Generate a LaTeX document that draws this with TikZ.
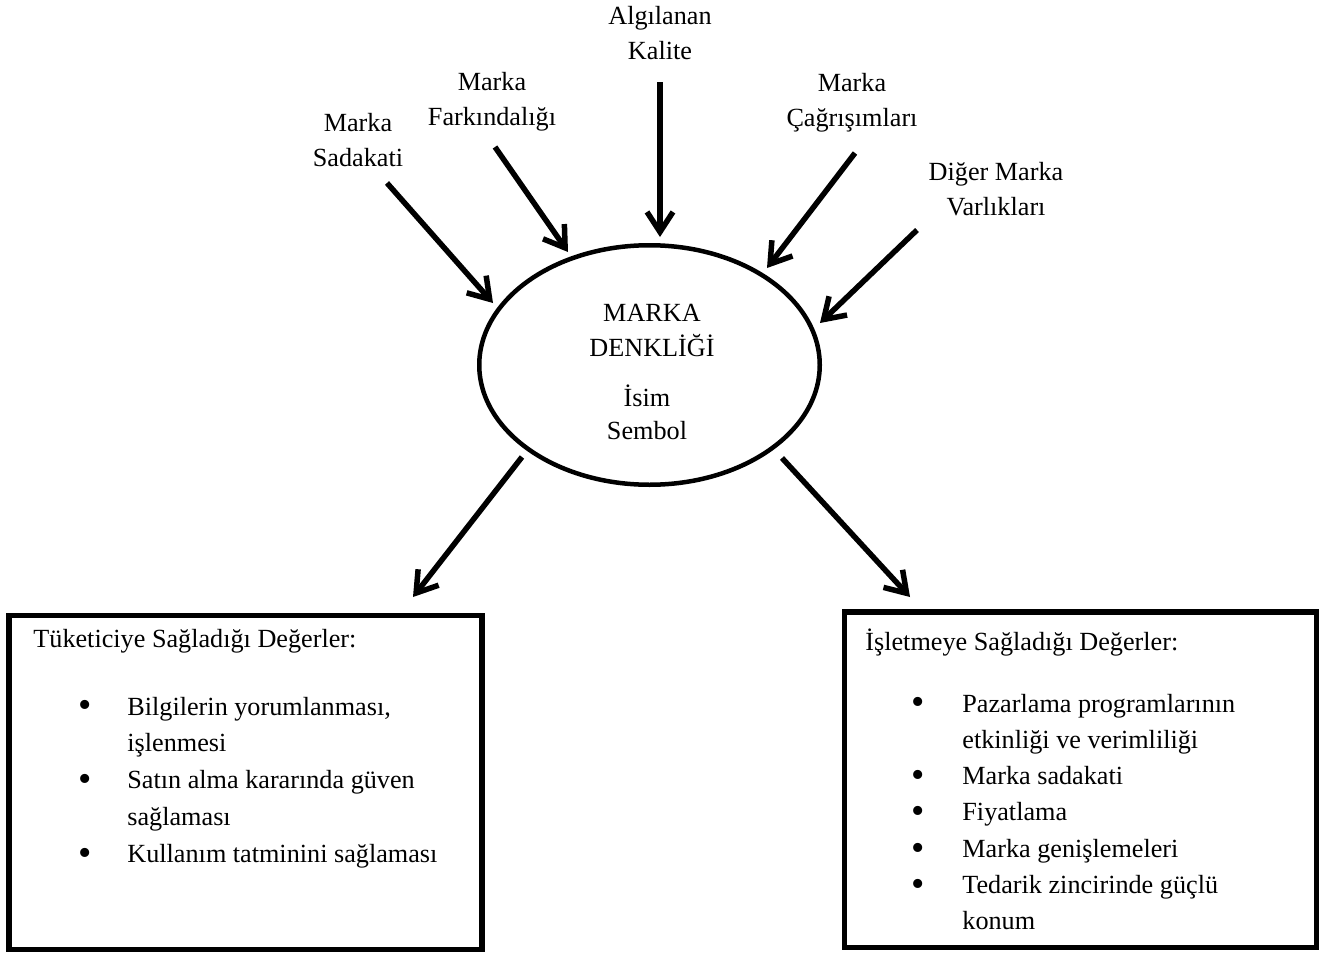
\documentclass[tikz,border=0pt]{standalone}
\usepackage{fontspec}
\usepackage{graphicx}
\setmainfont{Liberation Serif}
\usetikzlibrary{arrows.meta,shapes.geometric}
\newcommand{\bigbul}{\makebox[0pt]{\raisebox{-1.4pt}{\scalebox{1.45}{\textbullet}}}}
\begin{document}
\begin{tikzpicture}[x=0.5pt,y=-0.5pt,
  lbl/.style={font=\fontsize{13.1}{17.25}\selectfont, align=center, anchor=base, inner sep=0pt},
  txt/.style={anchor=base west, inner sep=0pt},
  arr/.style={line width=2.75pt, -{Straight Barb[length=10pt,width=13pt]}},
  boxed/.style={draw, line width=2.75pt, rectangle, inner sep=0pt}
]
\useasboundingbox (0,0) rectangle (1339,953);

% top labels (anchor = baseline of last line)
\node[lbl] (qual) at (660,59) {Algılanan\\Kalite};
\node[lbl] (aware) at (492,125) {Marka\\Farkındalığı};
\node[lbl] (loyal) at (358,166) {Marka\\Sadakati};
\node[lbl] (assoc) at (852,126) {Marka\\Çağrışımları};
\node[lbl] (other) at (996,215) {Diğer Marka\\Varlıkları};

% central ellipse
\node[draw, ellipse, line width=2.25pt, minimum width=170.25pt, minimum height=119.75pt, inner sep=0pt] (ell) at (649.5,365) {};
\node[lbl] (title) at (652,356) {MARKA\\DENKLİĞİ};
\node[lbl, font=\fontsize{13.1}{16.25}\selectfont] (name) at (647,439) {İsim\\Sembol};

% boxes
\node[boxed, minimum width=236.5pt, minimum height=167pt] (lbox) at (245.5,782.5) {};
\node[boxed, minimum width=236pt, minimum height=167.75pt] (rbox) at (1080.5,779.75) {};

\node[txt, font=\fontsize{13.1}{18.4}\selectfont] (lhead) at (33,647) {Tüketiciye Sağladığı Değerler:};
\node[txt, font=\fontsize{13.1}{18.4}\selectfont] (llist) at (85,715) {%
\begin{tabular}[t]{@{}c@{\hspace{21pt}}l@{}}
\bigbul & Bilgilerin yorumlanması,\\
 & işlenmesi\\
\bigbul & Satın alma kararında güven\\
 & sağlaması\\
\bigbul & Kullanım tatminini sağlaması
\end{tabular}};

\node[txt, font=\fontsize{13.1}{18.15}\selectfont] (rhead) at (865,650) {İşletmeye Sağladığı Değerler:};
\node[txt, font=\fontsize{13.1}{18.15}\selectfont] (rlist) at (918,712) {%
\begin{tabular}[t]{@{}c@{\hspace{22pt}}l@{}}
\bigbul & Pazarlama programlarının\\
 & etkinliği ve verimliliği\\
\bigbul & Marka sadakati\\
\bigbul & Fiyatlama\\
\bigbul & Marka genişlemeleri\\
\bigbul & Tedarik zincirinde güçlü\\
 & konum
\end{tabular}};

% arrow end points
\coordinate (s1) at (387,183); \coordinate (t1) at (493,303);
\coordinate (s2) at (495,147); \coordinate (t2) at (568,252);
\coordinate (s3) at (660,82);  \coordinate (t3) at (660,237);
\coordinate (s4) at (855,153); \coordinate (t4) at (767,268);
\coordinate (s5) at (917,230); \coordinate (t5) at (820,323);
\coordinate (s6) at (522,457); \coordinate (t6) at (413,597);
\coordinate (s7) at (782,458); \coordinate (t7) at (910,597);

\draw[arr] (s1) -- (t1);
\draw[arr] (s2) -- (t2);
\draw[arr] (s3) -- (t3);
\draw[arr] (s4) -- (t4);
\draw[arr] (s5) -- (t5);
\draw[arr] (s6) -- (t6);
\draw[arr] (s7) -- (t7);
\end{tikzpicture}
\end{document}
